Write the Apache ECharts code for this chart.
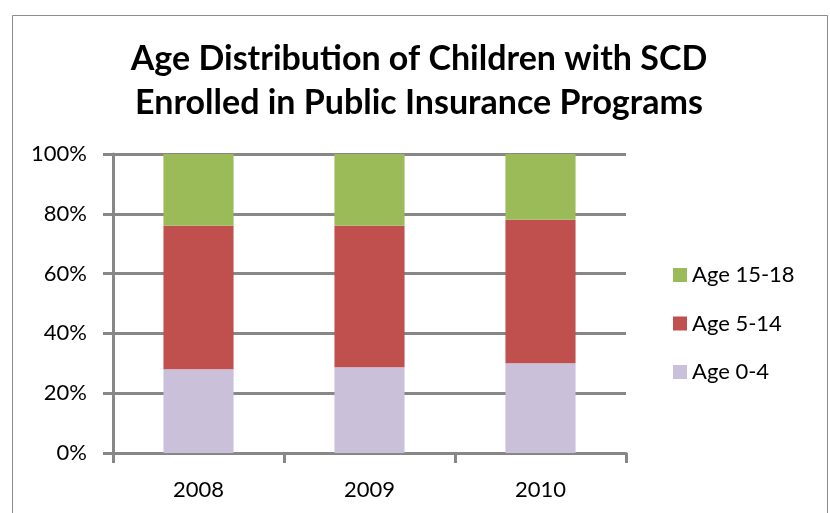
<!DOCTYPE html>
<html>
<head>
<meta charset="utf-8">
<script src="https://cdn.jsdelivr.net/npm/echarts@6/dist/echarts.min.js"></script>
<style>html,body{margin:0;padding:0;background:#fff;}#c{width:830px;height:513px;}</style>
</head>
<body>
<div id="c"></div>
<script>
const categories = ['2008', '2009', '2010'];
const age0to4 = [28.0, 28.7, 30.0];
const age5to14 = [48.0, 47.3, 48.0];
const age15to18 = [24.0, 24.0, 22.0];
const yTicks = [0, 20, 40, 60, 80, 100];

const chart = echarts.init(document.getElementById('c'));
const font = 'Lato, "Open Sans", sans-serif';
const gray = '#878787';
chart.setOption({
  animation: false,
  backgroundColor: '#fff',
  title: {
    text: 'Age Distribution of Children with SCD\nEnrolled in Public Insurance Programs',
    left: 414, top: 32, textAlign: 'center',
    textStyle: { fontFamily: font, fontWeight: 'bold', fontSize: 34, lineHeight: 44, color: '#000' }
  },
  graphic: [{
    type: 'rect', shape: { x: 12.5, y: 15.5, width: 815, height: 520 },
    style: { fill: 'none', stroke: '#8c8c8c', lineWidth: 1 }, silent: true
  }],
  legend: {
    data: ['Age 15-18', 'Age 5-14', 'Age 0-4'],
    orient: 'vertical', left: 668, top: 259,
    itemWidth: 14, itemHeight: 14, itemGap: 26.5,
    icon: 'rect',
    textStyle: { fontFamily: font, fontSize: 22, lineHeight: 20, color: '#000' }
  },
  grid: { left: 113, top: 154, width: 513, height: 299 },
  xAxis: {
    type: 'category', data: categories,
    axisLine: { lineStyle: { color: gray, width: 3 } },
    axisTick: { show: true, length: 10, lineStyle: { color: gray, width: 3 } },
    axisLabel: { fontFamily: font, fontSize: 22, color: '#000', margin: 26 },
    splitLine: { show: false }
  },
  yAxis: {
    type: 'value', min: 0, max: 100, interval: 20,
    axisLine: { show: true, lineStyle: { color: gray, width: 3 } },
    axisTick: { show: true, length: 10, lineStyle: { color: gray, width: 3 } },
    axisLabel: { fontFamily: font, fontSize: 22, color: '#000', margin: 26,
      formatter: v => yTicks.includes(v) ? v + '%' : '' },
    splitLine: { show: true, lineStyle: { color: gray, width: 3 } }
  },
  series: [
    { name: 'Age 0-4', type: 'bar', stack: 'a', data: age0to4, barWidth: '41%', itemStyle: { color: '#CBC0DA' } },
    { name: 'Age 5-14', type: 'bar', stack: 'a', data: age5to14, itemStyle: { color: '#C0504D' } },
    { name: 'Age 15-18', type: 'bar', stack: 'a', data: age15to18, itemStyle: { color: '#9BBB59' } }
  ]
});
</script>
</body>
</html>
